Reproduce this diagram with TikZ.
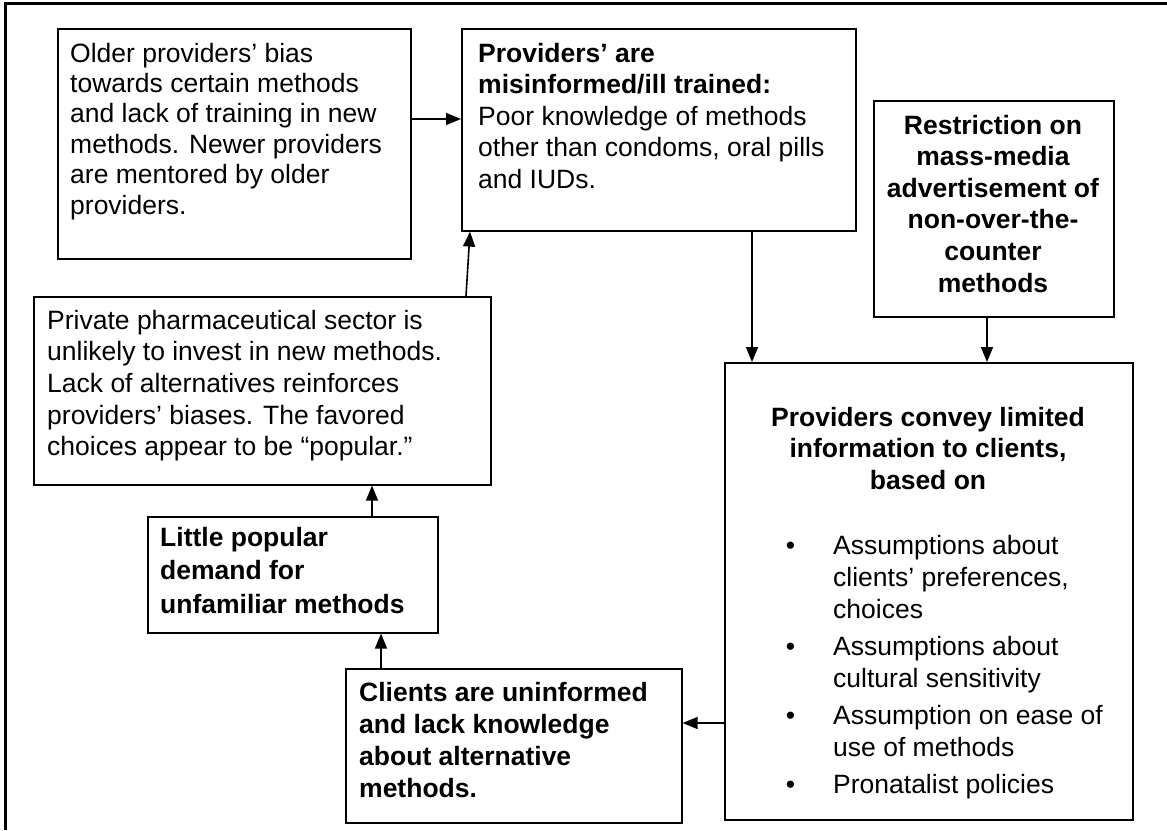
\documentclass[tikz,border=0pt]{standalone}
\usepackage{fontspec}
\setmainfont{Liberation Sans}
\usetikzlibrary{arrows.meta,calc}
\newcommand{\bul}{\leavevmode\llap{•\hspace{38pt}}}
\begin{document}
\begin{tikzpicture}[x=1pt,y=-1pt,
  box/.style={draw, line width=1.6pt, inner sep=0pt, anchor=north west},
  txt/.style={inner sep=0pt},
  arr/.style={line width=1.6pt, -{Triangle[length=15pt,width=12pt]}}]
\useasboundingbox (0,0) rectangle (1167,830);
\draw[line width=3pt] (5,830) -- (5,3.5) -- (1167,3.5);
% boxes
\node[box, minimum width=353pt, minimum height=230pt] (A) at (57,28) {};
\node[box, minimum width=394pt, minimum height=202pt] (B) at (461,28) {};
\node[box, minimum width=240pt, minimum height=216pt] (C) at (873,100) {};
\node[box, minimum width=408pt, minimum height=457pt] (D) at (724,362) {};
\node[box, minimum width=457pt, minimum height=188pt] (E) at (33,296) {};
\node[box, minimum width=290pt, minimum height=116pt] (F) at (147,516) {};
\node[box, minimum width=336pt, minimum height=154pt] (G) at (345,668) {};
% texts
\node[txt, anchor=base west] (At) at (70,62) {\fontsize{26.5}{30.4}\selectfont\parbox[t]{340pt}{Older providers’ bias\\towards certain methods\\and lack of training in new\\methods. Newer providers\\are mentored by older\\providers.}};
\node[txt, anchor=base west] (Bt) at (478,62) {\fontsize{26.5}{31.5}\selectfont\parbox[t]{370pt}{\textbf{Providers’ are}\\\textbf{misinformed/ill trained:}\\Poor knowledge of methods\\other than condoms, oral pills\\and IUDs.}};
\node[txt, anchor=base] (Ct) at (993,134) {\fontsize{26.5}{31.6}\selectfont\parbox[t]{236pt}{\centering\bfseries Restriction on\\mass-media\\advertisement of\\non-over-the-\\counter\\methods}};
\node[txt, anchor=base west] (Et) at (47,329) {\fontsize{26.5}{31.7}\selectfont\parbox[t]{440pt}{Private pharmaceutical sector is\\unlikely to invest in new methods.\\Lack of alternatives reinforces\\providers’ biases. The favored\\choices appear to be “popular.”}};
\node[txt, anchor=base west] (Ft) at (160,546) {\fontsize{26.5}{33.5}\selectfont\parbox[t]{275pt}{\bfseries Little popular\\demand for\\unfamiliar methods}};
\node[txt, anchor=base west] (Gt) at (359,701) {\fontsize{26.5}{32}\selectfont\parbox[t]{320pt}{\bfseries Clients are uninformed\\and lack knowledge\\about alternative\\methods.}};
\node[txt, anchor=base] (Dh) at (928,426) {\fontsize{26.5}{31.5}\selectfont\parbox[t]{400pt}{\centering\bfseries Providers convey limited\\information to clients,\\based on}};
\node[txt, anchor=base west] (Dl) at (833,554) {\fontsize{26.5}{32}\selectfont\parbox[t]{290pt}{\bul Assumptions about\\clients’ preferences,\\choices\\[5pt]\bul Assumptions about\\cultural sensitivity\\[5pt]\bul Assumption on ease of\\use of methods\\[5pt]\bul Pronatalist policies}};
% connectors
\draw[arr] ($(A.north east)+(0,91)$) -- ($(B.north west)+(0,91)$);
\draw[arr] ($(E.north west)+(433,0)$) -- ($(B.south west)+(9,0)$);
\draw[arr] ($(B.south west)+(291,0)$) -- ($(D.north west)+(28,0)$);
\draw[arr] ($(C.south west)+(114,0)$) -- ($(D.north west)+(263,0)$);
\draw[arr] ($(F.north west)+(225,0)$) -- ($(E.south west)+(339,0)$);
\draw[arr] ($(G.north west)+(36,0)$) -- ($(F.south west)+(234,0)$);
\draw[arr] ($(D.north west)+(0,361)$) -- ($(G.north east)+(0,55)$);
\end{tikzpicture}
\end{document}
